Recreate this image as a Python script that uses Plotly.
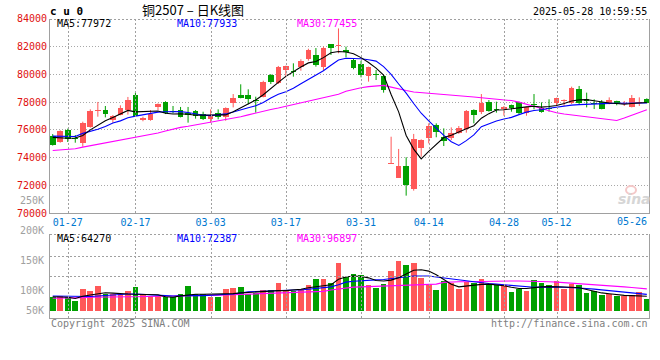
import plotly.graph_objects as go

# ---------------- data ----------------
dates = ["01-23","01-24","01-27","02-05","02-06","02-07","02-10","02-11","02-12","02-13",
         "02-14","02-17","02-18","02-19","02-20","02-21","02-24","02-25","02-26","02-27",
         "02-28","03-03","03-04","03-05","03-06","03-07","03-10","03-11","03-12","03-13",
         "03-14","03-17","03-18","03-19","03-20","03-21","03-24","03-25","03-26","03-27",
         "03-28","03-31","04-01","04-02","04-03","04-07","04-08","04-09","04-10","04-11",
         "04-14","04-15","04-16","04-17","04-18","04-21","04-22","04-23","04-24","04-25",
         "04-28","04-29","04-30","05-06","05-07","05-08","05-09","05-12","05-13","05-14",
         "05-15","05-16","05-19","05-20","05-21","05-22","05-23","05-26","05-27","05-28"]

opens = [75560,75150,75990,75450,75080,76210,77360,77430,76710,77100,
         77430,78510,76710,76710,77650,78010,77360,77430,77240,77360,
         77120,76780,77190,76950,77940,78510,78510,78150,78390,79950,
         79400,80310,80260,80550,81080,81410,80550,82160,82040,81750,
         81030,80740,79880,80000,79880,73550,72560,73400,71750,74720,
         75390,76350,75470,75390,75750,76040,77430,77310,78030,77480,
         77500,77790,77980,77190,77860,77600,77550,77960,78100,77910,
         78940,78220,77910,77980,77910,78080,77860,77670,77910,78220]
highs = [75700,75970,76090,75630,76590,77480,78010,77720,77070,77770,
         78370,78680,76950,77430,77910,78060,77720,77650,77650,77430,
         77310,77480,77480,77620,78580,79280,78920,78390,79540,80020,
         80600,80620,80790,81080,81840,81890,81990,82180,83300,81990,
         81150,80980,80550,80310,79950,75510,74630,74030,75710,75320,
         76470,76470,76110,76180,76280,77430,77480,78580,78150,78030,
         77720,77820,78030,77670,78580,77980,78200,78320,78200,79110,
         79160,78680,78200,78150,78340,78100,78080,78510,78340,78270]
lows = [74870,75080,75130,75080,74790,76160,76950,76900,76520,77050,
        77100,76950,76620,76660,77430,77140,77190,76900,76520,76810,
        76710,76520,76760,76660,77620,78270,77840,77240,78340,79300,
        79300,79780,79830,80260,80980,80550,80260,81390,81510,81220,
        80360,79780,79470,79590,78680,73550,72540,71270,71630,74070,
        75030,75470,74840,75270,75710,75800,76470,77140,77310,77240,
        77020,77310,77140,77020,77480,77240,77310,77720,77720,77860,
        77860,77620,77500,77480,77840,77770,77720,77620,77720,77910]
closes = [74910,75920,75320,75370,76500,77340,77430,77170,77000,77580,
          78150,77000,76880,77170,77860,77190,77260,76950,77100,77000,
          76780,77020,76950,77580,78300,78320,78200,78080,79470,79450,
          80550,80600,80190,80980,81750,80670,81890,81890,82080,81580,
          80430,79970,80550,79930,78870,73620,73400,72040,75350,75270,
          76280,75870,75200,75750,76110,77380,77100,77960,77380,77410,
          77670,77600,77190,77620,77790,77310,77480,78300,78150,79040,
          77910,78060,77840,77500,78150,77840,77910,78300,77980,77960]

ma5 = [75460,75420,75400,75420,75600,76000,76350,76650,76900,77150,
       77400,77300,77310,77320,77360,77200,77140,77150,77130,77050,
       77060,77024,77030,77080,77300,77580,77830,78150,78530,79000,
       79420,79850,80200,80530,80820,80920,81200,81550,81640,81600,
       81480,81200,80850,80450,79950,78550,77300,75600,74620,73920,
       74450,74980,75450,75620,75880,76080,76300,76840,77170,77430,
       77450,77530,77600,77660,77700,77640,77680,77760,77900,78080,
       78160,78180,78100,78000,77930,77900,77850,77900,77930,77972]
ma10 = [75550,75530,75510,75520,75750,75900,76040,76250,76490,76650,
        76880,76990,77100,77200,77280,77310,77320,77315,77250,77150,
        77060,77030,77070,77150,77290,77460,77600,77740,77970,78300,
        78560,78750,79000,79320,79620,79920,80260,80650,81030,81150,
        81150,81120,81050,80950,80550,80000,79300,78650,77900,77200,
        76650,76120,75600,75150,74880,75230,75640,76230,76430,76640,
        76780,76900,77100,77280,77400,77450,77560,77640,77720,77780,
        77820,77850,77870,77890,77910,77915,77920,77950,77960,77933]
ma30 = [74520,74560,74600,74640,74760,74860,74960,75060,75150,75250,
        75360,75440,75530,75640,75780,75920,76060,76180,76260,76360,
        76430,76530,76620,76720,76820,76950,77080,77220,77360,77470,
        77580,77700,77820,77940,78050,78170,78290,78410,78570,78780,
        78930,79030,79110,79180,79200,79080,78940,78830,78730,78690,
        78640,78610,78570,78530,78480,78430,78370,78310,78260,78220,
        78170,78110,78000,77860,77680,77540,77380,77230,77140,77070,
        77010,76950,76880,76800,76720,76680,76850,77050,77260,77455]

volume = [62000,65000,59000,44000,96000,87000,110000,73000,73000,76000,
          87000,105000,73000,65000,65000,62000,62000,73000,110000,73000,
          73000,62000,62000,96000,101000,105000,73000,77000,92000,92000,
          123000,87000,89000,96000,114000,141000,141000,123000,213000,148000,
          163000,157000,114000,99000,119000,176000,221000,203000,213000,145000,
          114000,92000,132000,121000,96000,126000,121000,141000,119000,114000,
          114000,84000,96000,89000,136000,124000,114000,132000,96000,117000,
          114000,79000,87000,70000,74000,65000,67000,70000,81000,52000]
vol_ma5 = [62000,62000,60000,54000,64000,70000,76000,80000,78000,75000,
           74000,73000,73000,73000,71000,62000,60000,66000,71000,73000,
           73000,73000,73000,74000,76000,79000,81000,84000,86000,89000,
           89000,89000,91000,95000,102000,106000,110000,115000,140000,150000,
           154000,152000,146000,134000,132000,136000,146000,164000,180000,182000,
           176000,160000,138000,118000,106000,110000,113000,117000,118000,115000,
           111000,104000,99000,99000,103000,106000,107000,107000,105000,104000,
           102000,94000,86000,79000,75000,70000,68000,67000,66000,64270]
vol_ma10 = [65000,64000,63000,62000,62000,63000,65000,68000,71000,74000,
            74000,74000,73000,71000,70000,67000,65000,67000,68000,68000,
            67000,68000,70000,72000,74000,79000,84000,85000,87000,89000,
            91000,92000,92000,92000,95000,99000,102000,106000,115000,127000,
            131000,134000,136000,137000,139000,143000,148000,153000,154000,154000,
            154000,150000,145000,141000,137000,133000,129000,124000,121000,118000,
            115000,112000,108000,105000,104000,105000,107000,106000,104000,103000,
            101000,99000,96000,93000,91000,88000,84000,80000,76000,72387]
vol_ma30 = [55000,55000,55000,56000,58000,60000,61000,62000,62000,62000,
            62000,62000,62000,62000,63000,64000,65000,66000,66000,67000,
            68000,68000,69000,70000,71000,72000,73000,74000,75000,76000,
            77000,78000,79000,81000,82000,84000,86000,92000,97000,103000,
            105000,106000,107000,108000,110000,111000,112000,114000,114000,114000,
            114000,118000,126000,129000,129000,129000,130000,131000,132000,132000,
            132000,132000,132000,132000,131000,130000,129000,127000,125000,123000,
            121000,119000,117000,115000,113000,110000,106000,103000,100000,96897]

label_dates = ["01-27","02-17","03-03","03-17","03-31","04-14","04-28","05-12","05-26"]
price_ticks = [70000, 72000, 74000, 76000, 78000, 80000, 82000, 84000]
vol_tick_labels = ["250K", "200K", "150K", "100K", "50K"]

# ---------------- styling / geometry ----------------
W, H = 660, 360
def px(x):
    return x / W
def py(y):
    return 1 - y / H

RED = "#FF5858"
GREEN = "#00A000"
GRID = "#A8A8A8"
VGRID = "#A0A0A0"
FRAME = "#A0A0A0"
XLAB = "#0078D0"
MONO = "DejaVu Sans Mono"
L, R = 50, 649.3
MAIN_T, MAIN_B = 18.7, 213.3
VOL_T, VOL_B = 234.3, 318.3
PRICE_RANGE = [70000, 84000]
VOL_RANGE = [-33800, 339600]
vol_grid_px = [255.7, 275.7]          # pixel rows of the volume panel's dotted grid
xrange = [-0.36, 79.33]

def vol_at_px(y):
    frac = (VOL_B - y) / (VOL_B - VOL_T)
    return VOL_RANGE[0] + frac * (VOL_RANGE[1] - VOL_RANGE[0])

def x_to_px(v):
    return L + (v - xrange[0]) / (xrange[1] - xrange[0]) * (R - L)

n = len(dates)
xs = list(range(n))
up = [c >= o for o, c in zip(opens, closes)]
colors = [RED if u else GREEN for u in up]
min_body = 70
body_base = [min(o, c) for o, c in zip(opens, closes)]
body_h = [max(abs(c - o), min_body) for o, c in zip(opens, closes)]
grid_dates = label_dates[:-1]          # the last label sits at the edge, without a grid line
grid_idx = [dates.index(d) for d in grid_dates]

fig = go.Figure()

# wicks
for flag, col in ((True, RED), (False, GREEN)):
    wx, wy = [], []
    for i in xs:
        if up[i] == flag:
            wx += [i, i, None]
            wy += [lows[i], highs[i], None]
    fig.add_trace(go.Scatter(x=wx, y=wy, mode="lines", line=dict(color=col, width=1),
                             hoverinfo="skip", xaxis="x", yaxis="y"))

# candle bodies
fig.add_trace(go.Bar(x=xs, y=body_h, base=body_base, width=0.75,
                     marker=dict(color=colors, line=dict(width=0)),
                     xaxis="x", yaxis="y"))

# price moving averages
for vals, col in ((ma30, "#FF00FF"), (ma10, "#0000FF"), (ma5, "#000000")):
    fig.add_trace(go.Scatter(x=xs, y=vals, mode="lines", line=dict(color=col, width=1.1),
                             xaxis="x", yaxis="y"))

# volume bars
fig.add_trace(go.Bar(x=xs, y=volume, width=0.75,
                     marker=dict(color=colors, line=dict(width=0)),
                     xaxis="x2", yaxis="y2"))
for vals, col in ((vol_ma30, "#FF00FF"), (vol_ma10, "#0000FF"), (vol_ma5, "#000000")):
    fig.add_trace(go.Scatter(x=xs, y=vals, mode="lines", line=dict(color=col, width=1.1),
                             xaxis="x2", yaxis="y2"))

xdom = [px(L), px(R)]

fig.update_layout(
    width=W, height=H, margin=dict(l=0, r=0, t=0, b=0, autoexpand=False),
    paper_bgcolor="white", plot_bgcolor="white", showlegend=False,
    font=dict(family=MONO, size=10, color="#000000"),
    bargap=0,
    xaxis=dict(domain=xdom, range=xrange, anchor="y", tickvals=grid_idx, ticktext=grid_dates,
               tickfont=dict(family=MONO, size=10, color=XLAB), showgrid=False,
               zeroline=False, showline=True, linecolor=FRAME, linewidth=1, ticks="",
               automargin=False),
    yaxis=dict(domain=[py(MAIN_B), py(MAIN_T)], range=PRICE_RANGE, tickvals=price_ticks,
               ticktext=[str(v) for v in price_ticks],
               tickfont=dict(family=MONO, size=10, color="#E01010"),
               showgrid=True, gridcolor=GRID, griddash="1px,2px", gridwidth=1,
               zeroline=False, showline=True, mirror=True, linecolor=FRAME, linewidth=1, ticks="",
               automargin=False),
    xaxis2=dict(domain=xdom, range=xrange, anchor="y2", showticklabels=False, showgrid=False,
                zeroline=False, showline=True, linecolor=FRAME, linewidth=1, ticks="",
                automargin=False),
    yaxis2=dict(domain=[py(VOL_B), py(VOL_T)], range=VOL_RANGE, showticklabels=False,
                showgrid=False, zeroline=False, showline=True, mirror=True,
                linecolor=FRAME, linewidth=1, ticks="", automargin=False),
)

# dotted grid as pixel-snapped shapes, drawn above the (white) plot background
shapes = []
dot = dict(color=VGRID, width=1, dash="2px,2px")
for i in grid_idx:
    xp = round(x_to_px(i)) + 0.5
    for top, bot in ((MAIN_T, MAIN_B), (VOL_T, VOL_B)):
        shapes.append(dict(type="line", xref="paper", yref="paper", x0=px(xp), x1=px(xp),
                           y0=py(round(bot)), y1=py(round(top)), line=dot, layer="above"))
for yy in [18.7, 234.3] + vol_grid_px:
    yp = round(yy) + 0.5
    shapes.append(dict(type="line", xref="paper", yref="paper", x0=px(L), x1=px(649),
                       y0=py(yp), y1=py(yp), line=dot, layer="above"))
shapes.append(dict(type="circle", xref="paper", yref="paper", x0=px(626), x1=px(636),
                   y0=py(194), y1=py(186), line=dict(color="#F4C8C8", width=2), layer="above"))
fig.update_layout(shapes=shapes)

ann = []
def add_text(text, x, y, color="#000000", size=10, xanchor="left", family=MONO, bold=False):
    if bold:
        text = "<b>" + text + "</b>"
    ann.append(dict(text=text, x=px(x), y=py(y), xref="paper", yref="paper",
                    xanchor=xanchor, yanchor="middle", showarrow=False,
                    font=dict(family=family, size=size, color=color)))

add_text("c u 0", 48, 12, size=11, bold=True)
add_text("铜2507 – 日K线图", 140, 9, size=13, family="Noto Sans CJK SC")
add_text("2025-05-28 10:59:55", 649, 12, xanchor="right")
add_text("MA5:" + str(ma5[-1]), 55, 23.7)
add_text("MA10:" + str(ma10[-1]), 174.5, 23.7, color="#0000FF")
add_text("MA30:" + str(ma30[-1]), 295, 23.7, color="#FF00FF")
add_text("MA5:" + str(vol_ma5[-1]), 55, 238.5)
add_text("MA10:" + str(vol_ma10[-1]), 174.5, 238.5, color="#0000FF")
add_text("MA30:" + str(vol_ma30[-1]), 295, 238.5, color="#FF00FF")
for lab, yy in zip(vol_tick_labels, (200.3, 230.7, 260.7, 290, 310)):
    add_text(lab, 46, yy, color="#A0A0A0", xanchor="right")
add_text("Copyright 2025 SINA.COM", 49, 323.7, color="#808080")
add_text("http://finance.sina.com.cn", 649.5, 323.7, color="#808080", xanchor="right")
# last date label (edge of the chart, no grid line)
ann.append(dict(text=label_dates[-1], x=dates.index(label_dates[-1]), xref="x",
                y=py(221), yref="paper", xanchor="center", yanchor="middle", showarrow=False,
                font=dict(family=MONO, size=10, color=XLAB)))
ann.append(dict(text="<b><i>sina</i></b>", x=px(634), y=py(199), xref="paper", yref="paper",
                xanchor="center", yanchor="middle", showarrow=False,
                font=dict(family="DejaVu Sans", size=14, color="#D6D6D6")))
fig.update_layout(annotations=ann)

fig.write_html("out.html", config={"displayModeBar": False, "staticPlot": True},
               post_script="document.body.style.margin='0';document.body.style.padding='0';")
